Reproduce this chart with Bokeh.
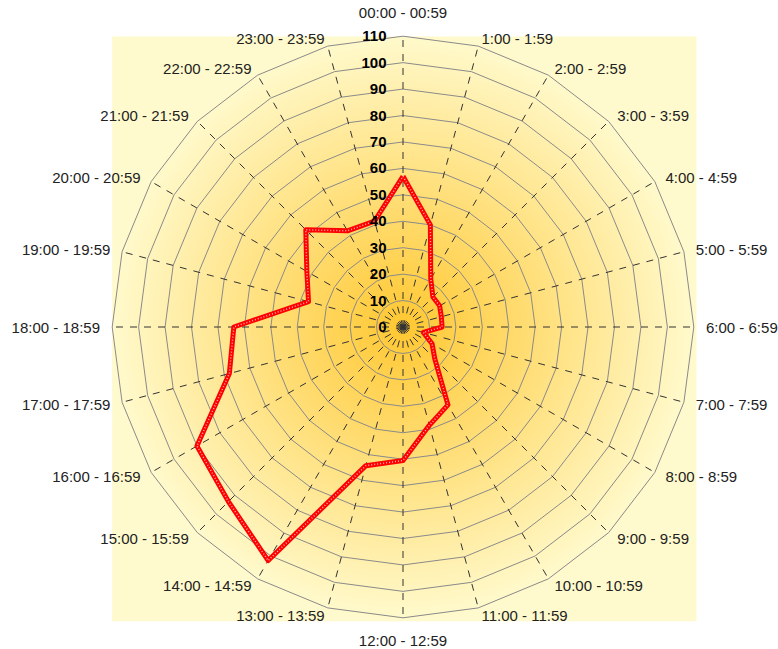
import numpy as np
from bokeh.plotting import figure
from bokeh.models import ColumnDataSource, Range1d
from bokeh.embed import file_html
from bokeh.resources import INLINE
from bokeh.core.properties import value

# Hour-of-day buckets, clockwise from the top
categories = [
    "00:00 - 00:59", "1:00 - 1:59", "2:00 - 2:59", "3:00 - 3:59",
    "4:00 - 4:59", "5:00 - 5:59", "6:00 - 6:59", "7:00 - 7:59",
    "8:00 - 8:59", "9:00 - 9:59", "10:00 - 10:59", "11:00 - 11:59",
    "12:00 - 12:59", "13:00 - 13:59", "14:00 - 14:59", "15:00 - 15:59",
    "16:00 - 16:59", "17:00 - 17:59", "18:00 - 18:59", "19:00 - 19:59",
    "20:00 - 20:59", "21:00 - 21:59", "22:00 - 22:59", "23:00 - 23:59",
]
counts = [57, 40, 21, 16, 16, 15, 14.8, 8, 12.7, 17, 34, 38.5,
          50.5, 54.3, 102, 93.4, 90, 68, 64, 37, 42, 52, 42, 41.5]
radial_ticks = [0, 10, 20, 30, 40, 50, 60, 70, 80, 90, 100, 110]
r_max = 110

W, H = 778, 649
K = 290.8 / r_max          # pixels per unit
CX, CY = 402.5, 326.5      # pole position in pixels

n = len(categories)
theta = np.arange(n) * 2 * np.pi / n

p = figure(width=W, height=H, output_backend="svg", toolbar_location=None,
           min_border=0, outline_line_color=None,
           x_range=Range1d(-CX / K, (W - CX) / K),
           y_range=Range1d(-(H - CY) / K, CY / K))
p.axis.visible = False
p.grid.visible = False
p.background_fill_color = "white"
p.border_fill_color = "white"

# radial gradient behind the plot area
N = 400
x0, x1 = -110.0, 111.0
y0, y1 = -111.3, 109.9
gx = np.linspace(x0, x1, N)
gy = np.linspace(y0, y1, N)
XX, YY = np.meshgrid(gx, gy)
t = np.clip(np.hypot(XX, YY) / 110.5, 0, 1)
c_in = np.array([255, 200, 50], float)
c_out = np.array([255, 250, 205], float)
rgb = c_in[None, None, :] + (c_out - c_in)[None, None, :] * t[..., None]
img = np.empty((N, N), dtype=np.uint32)
view = img.view(dtype=np.uint8).reshape((N, N, 4))
view[..., 0] = rgb[..., 0].astype(np.uint8)
view[..., 1] = rgb[..., 1].astype(np.uint8)
view[..., 2] = rgb[..., 2].astype(np.uint8)
view[..., 3] = 255
p.image_rgba(image=[img], x=x0, y=y0, dw=x1 - x0, dh=y1 - y0)

# polygonal grid rings
ring_xs, ring_ys = [], []
for r in radial_ticks[1:]:
    a = np.append(theta, theta[0])
    ring_xs.append(list(r * np.sin(a)))
    ring_ys.append(list(r * np.cos(a)))
p.multi_line(ring_xs, ring_ys, line_color="#8a8a8a", line_width=1)

# dashed spokes
spoke_xs = [[0, r_max * np.sin(a)] for a in theta]
spoke_ys = [[0, r_max * np.cos(a)] for a in theta]
p.multi_line(spoke_xs, spoke_ys, line_color="#333333", line_width=1,
             line_dash="7 7")

# series outline (closed)
cv = np.append(counts, counts[0])
ca = np.append(theta, theta[0])
sx = cv * np.sin(ca)
sy = cv * np.cos(ca)
p.line(sx, sy, line_color="#ff0000", line_width=5, line_join="round")
p.line(sx, sy, line_color="#ffb0b0", line_width=1.5, line_dash="1 2",
       line_join="round")

# radial tick labels along the top spoke
p.text(x=[0] * len(radial_ticks), y=radial_ticks,
       text=[str(v) for v in radial_ticks],
       text_align="right", text_baseline="middle", x_offset=-16.5,
       text_font=value("Liberation Sans"), text_font_style="bold",
       text_font_size="15px", text_color="#000000")

# category labels around the outside
R_lab = 303 / K
lx = R_lab * np.sin(theta)
ly = R_lab * np.cos(theta)
aligns, yoffs = [], []
for i, a in enumerate(theta):
    if i == 0:
        aligns.append("center"); yoffs.append(-11.5)
    elif i == n // 2:
        aligns.append("center"); yoffs.append(10.5)
    else:
        aligns.append("left" if i < n // 2 else "right")
        yoffs.append(4.5 * np.cos(a))
src = ColumnDataSource(dict(x=lx, y=ly, text=categories, align=aligns,
                            yoff=yoffs))
p.text(x="x", y="y", text="text", text_align="align", y_offset="yoff",
       text_baseline="middle", source=src,
       text_font=value("Liberation Sans"), text_font_size="15px",
       text_color="#222222")

open("out.html", "w").write(file_html(p, INLINE))
